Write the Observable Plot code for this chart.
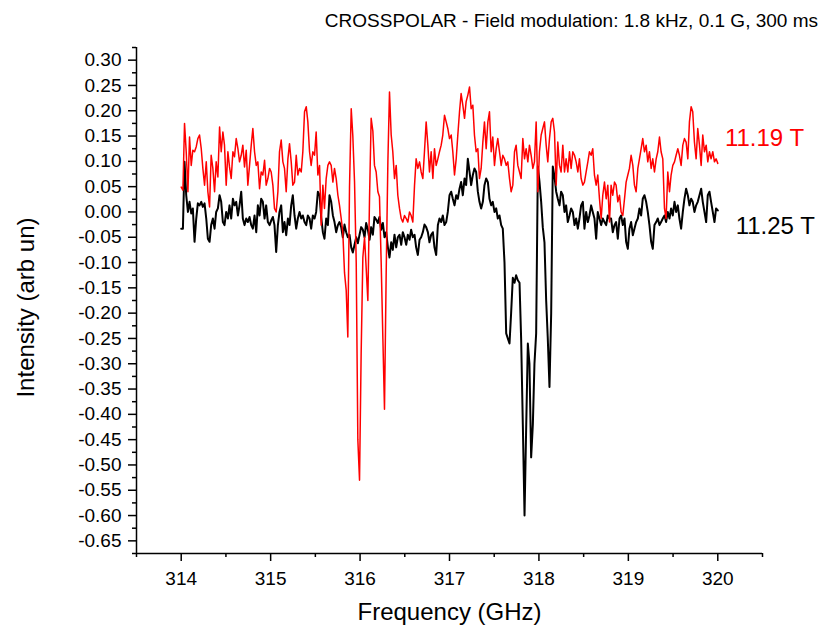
<!DOCTYPE html>
<html>
<head>
<meta charset="utf-8">
<script src="https://cdn.jsdelivr.net/npm/d3@7"></script>
<script src="https://cdn.jsdelivr.net/npm/@observablehq/plot@0.6"></script>
<style>
  html, body { margin: 0; padding: 0; background: #fff; overflow: hidden; font-family: "Liberation Sans", Arial, sans-serif; }
  #wrap { position: relative; width: 822px; height: 633px; }
  #title { position: absolute; right: 4px; top: 9px; font-size: 19px; line-height: 24px; white-space: nowrap; color: #000; text-align: right; }
  #chart { position: absolute; left: 0; top: 40px; }
  #chart svg { display: block; }
</style>
</head>
<body>
<div id="wrap">
<div id="title">CROSSPOLAR - Field modulation: 1.8 kHz, 0.1 G, 300 ms</div>
<div id="chart"></div>
</div>
<script>
const freq = [
314.000,314.019,314.037,314.056,314.075,314.093,314.112,314.130,314.149,314.168,
314.186,314.205,314.224,314.242,314.261,314.280,314.298,314.317,314.335,314.354,
314.373,314.391,314.410,314.429,314.447,314.466,314.484,314.503,314.522,314.540,
314.559,314.578,314.596,314.615,314.634,314.652,314.671,314.689,314.708,314.727,
314.745,314.764,314.783,314.801,314.820,314.839,314.857,314.876,314.894,314.913,
314.932,314.950,314.969,314.988,315.006,315.025,315.043,315.062,315.081,315.099,
315.118,315.137,315.155,315.174,315.193,315.211,315.230,315.248,315.267,315.286,
315.304,315.323,315.342,315.360,315.379,315.398,315.416,315.435,315.453,315.472,
315.491,315.509,315.528,315.547,315.565,315.584,315.602,315.621,315.640,315.658,
315.677,315.696,315.714,315.733,315.752,315.770,315.789,315.807,315.826,315.845,
315.863,315.882,315.901,315.919,315.938,315.957,315.975,315.994,316.012,316.031,
316.050,316.068,316.087,316.106,316.124,316.143,316.161,316.180,316.199,316.217,
316.236,316.255,316.273,316.292,316.311,316.329,316.348,316.366,316.385,316.404,
316.422,316.441,316.460,316.478,316.497,316.516,316.534,316.553,316.571,316.590,
316.609,316.627,316.646,316.665,316.683,316.702,316.720,316.739,316.758,316.776,
316.795,316.814,316.832,316.851,316.870,316.888,316.907,316.925,316.944,316.963,
316.981,317.000,317.019,317.037,317.056,317.075,317.093,317.112,317.130,317.149,
317.168,317.186,317.205,317.224,317.242,317.261,317.279,317.298,317.317,317.335,
317.354,317.373,317.391,317.410,317.429,317.447,317.466,317.484,317.503,317.522,
317.540,317.559,317.578,317.596,317.615,317.634,317.652,317.671,317.689,317.708,
317.727,317.745,317.764,317.783,317.801,317.820,317.839,317.857,317.876,317.894,
317.913,317.932,317.950,317.969,317.988,318.006,318.025,318.043,318.062,318.081,
318.099,318.118,318.137,318.155,318.174,318.193,318.211,318.230,318.248,318.267,
318.286,318.304,318.323,318.342,318.360,318.379,318.398,318.416,318.435,318.453,
318.472,318.491,318.509,318.528,318.547,318.565,318.584,318.602,318.621,318.640,
318.658,318.677,318.696,318.714,318.733,318.752,318.770,318.789,318.807,318.826,
318.845,318.863,318.882,318.901,318.919,318.938,318.957,318.975,318.994,319.012,
319.031,319.050,319.068,319.087,319.106,319.124,319.143,319.161,319.180,319.199,
319.217,319.236,319.255,319.273,319.292,319.311,319.329,319.348,319.366,319.385,
319.404,319.422,319.441,319.460,319.478,319.497,319.516,319.534,319.553,319.571,
319.590,319.609,319.627,319.646,319.665,319.683,319.702,319.720,319.739,319.758,
319.776,319.795,319.814,319.832,319.851,319.870,319.888,319.907,319.925,319.944,
319.963,319.981,320.000
];

// 11.19 T trace (red)
const red1119 = [
0.049,0.043,0.175,0.119,0.040,0.148,0.092,0.122,0.119,0.129,
0.145,0.152,0.125,0.086,0.053,0.099,0.040,0.010,0.112,0.086,
0.040,0.099,0.069,0.168,0.119,0.158,0.132,0.053,0.119,0.089,
0.066,0.119,0.109,0.145,0.125,0.099,0.112,0.132,0.089,0.122,
0.053,0.092,0.132,0.165,0.119,0.092,0.099,0.046,0.079,0.073,
0.102,0.053,0.066,0.086,0.079,0.053,0.007,0.000,0.040,0.119,
0.142,0.099,0.086,0.040,0.105,0.135,0.099,0.053,0.059,0.112,
0.073,0.086,0.079,0.119,0.198,0.208,0.178,0.119,0.092,0.119,
0.112,0.158,0.073,0.092,-0.026,0.053,0.007,0.066,0.092,0.099,
0.092,0.059,0.086,0.066,0.033,0.013,-0.013,-0.040,-0.120,-0.155,
-0.247,0.050,0.204,0.150,0.060,-0.100,-0.450,-0.530,-0.280,-0.090,
-0.050,-0.110,-0.175,0.030,0.185,0.160,0.092,0.079,0.040,0.030,
-0.100,-0.250,-0.390,-0.120,0.100,0.237,0.152,0.119,0.066,0.092,
0.033,0.007,-0.013,-0.020,-0.007,-0.013,-0.020,0.000,-0.007,-0.020,
0.053,0.105,0.086,0.099,0.079,0.066,0.119,0.178,0.132,0.079,
0.119,0.066,0.125,0.092,0.105,0.119,0.132,0.152,0.191,0.178,
0.165,0.145,0.152,0.119,0.073,0.105,0.152,0.198,0.234,0.211,
0.185,0.218,0.231,0.247,0.204,0.211,0.152,0.119,0.125,0.066,
0.086,0.138,0.178,0.125,0.178,0.198,0.119,0.148,0.092,0.125,
0.145,0.119,0.092,0.112,0.105,0.092,0.099,0.066,0.040,0.053,
0.119,0.132,0.092,0.079,0.066,0.145,0.105,0.125,0.099,0.132,
0.112,0.086,0.099,0.178,0.040,0.119,0.152,0.165,0.178,0.132,
0.099,0.145,0.178,0.185,0.158,0.053,0.138,0.092,0.079,0.132,
0.079,0.105,0.079,0.119,0.086,0.119,0.112,0.099,0.079,0.105,
0.066,0.053,0.059,0.079,0.099,0.119,0.112,0.125,0.073,0.053,
0.073,0.026,-0.013,0.033,0.059,0.026,0.053,-0.020,
0.053,0.033,0.059,0.053,0.020,0.033,0.000,-0.007,0.026,0.059,
0.073,0.086,0.112,0.092,0.053,0.040,0.086,0.105,0.125,0.145,
0.119,0.132,0.099,0.119,0.086,0.105,0.079,0.105,0.119,0.148,
0.119,0.105,0.007,-0.013,0.079,0.040,0.073,0.092,0.099,0.112,
0.125,0.112,0.092,0.132,0.145,0.138,0.105,0.178,0.208,0.198,
0.138,0.105,0.165,0.132,0.092,0.152,0.119,0.132,0.099,0.119,
0.105,0.119,0.099,0.105,0.096
];

// 11.25 T trace (black)
const black1125 = [
-0.033,-0.033,0.099,0.033,0.000,0.020,-0.003,0.007,-0.059,-0.013,
0.017,0.013,0.020,0.010,0.017,-0.013,-0.053,-0.059,-0.026,-0.013,
-0.033,0.000,0.007,0.033,0.020,-0.020,-0.026,0.000,-0.013,0.013,
-0.013,0.026,0.013,0.020,-0.007,0.013,0.040,-0.013,-0.026,-0.013,
-0.020,-0.010,-0.026,-0.033,-0.007,-0.040,0.013,-0.007,0.026,0.020,
-0.013,0.013,-0.020,-0.026,-0.017,-0.010,-0.026,-0.079,-0.026,0.000,
0.013,-0.040,-0.020,-0.046,-0.013,-0.026,0.013,0.033,-0.007,-0.033,
-0.013,0.000,-0.013,-0.007,-0.020,-0.026,-0.007,-0.013,-0.033,-0.007,
-0.013,0.000,0.040,0.033,-0.010,-0.040,-0.053,-0.013,-0.026,0.033,
0.020,-0.007,-0.020,-0.040,-0.026,-0.020,-0.030,-0.050,-0.025,-0.040,
-0.050,-0.045,-0.070,-0.080,-0.065,-0.050,-0.062,-0.045,-0.030,-0.035,
-0.050,-0.022,-0.035,-0.055,-0.030,-0.045,-0.010,-0.015,-0.022,-0.010,
-0.035,-0.022,-0.050,-0.040,-0.070,-0.090,-0.060,-0.075,-0.045,-0.070,
-0.050,-0.045,-0.065,-0.040,-0.050,-0.065,-0.045,-0.055,-0.035,-0.050,
-0.045,-0.070,-0.085,-0.055,-0.050,-0.040,-0.025,-0.030,-0.040,-0.060,
-0.045,-0.040,-0.070,-0.085,-0.026,-0.013,-0.020,-0.007,-0.026,-0.020,
0.000,0.033,0.040,0.026,0.013,0.033,0.026,0.046,0.059,0.033,
0.066,0.053,0.105,0.079,0.053,0.073,0.086,0.079,0.040,0.020,
0.007,0.020,0.053,0.066,0.059,0.026,0.013,0.020,0.000,0.007,
-0.013,-0.007,-0.026,-0.033,-0.100,-0.240,-0.250,-0.260,-0.200,-0.130,
-0.140,-0.125,-0.135,-0.140,-0.250,-0.420,-0.600,-0.430,-0.260,-0.300,
-0.485,-0.420,-0.300,-0.240,0.090,0.060,0.020,-0.030,-0.060,-0.175,
-0.250,-0.346,-0.200,0.090,0.070,0.040,0.026,0.013,0.040,0.033,
0.000,0.013,-0.020,-0.007,0.007,0.000,-0.026,-0.013,-0.033,-0.013,
0.013,0.020,-0.033,0.000,-0.020,-0.007,0.013,0.000,-0.013,-0.053,
0.000,-0.013,-0.026,-0.013,-0.020,-0.026,-0.007,-0.013,
-0.013,-0.040,-0.026,-0.020,-0.053,-0.013,-0.007,-0.026,-0.013,-0.059,
-0.073,-0.033,-0.020,-0.046,-0.033,-0.020,-0.013,0.007,-0.007,0.026,
0.033,0.020,0.000,-0.026,-0.059,-0.073,-0.026,-0.020,-0.013,-0.026,
-0.020,-0.013,-0.007,-0.020,0.000,-0.013,0.007,-0.007,0.020,0.000,
0.013,-0.013,-0.033,0.000,0.026,0.046,0.033,0.013,0.026,0.020,
0.000,0.013,0.020,0.033,0.046,0.020,0.000,-0.020,0.033,0.040,
0.020,0.000,-0.020,0.007,0.003
];

const xTicks = [314, 315, 316, 317, 318, 319, 320];
const xMinor = [313.5, 314.5, 315.5, 316.5, 317.5, 318.5, 319.5, 320.5];
const yTicks = [0.30, 0.25, 0.20, 0.15, 0.10, 0.05, 0.00, -0.05, -0.10, -0.15, -0.20, -0.25, -0.30,
                -0.35, -0.40, -0.45, -0.50, -0.55, -0.60, -0.65];
const yMinor = [0.325, 0.275, 0.225, 0.175, 0.125, 0.075, 0.025, -0.025, -0.075, -0.125, -0.175, -0.225,
                -0.275, -0.325, -0.375, -0.425, -0.475, -0.525, -0.575, -0.625, -0.675];
const seriesLabels = ["11.19 T", "11.25 T"];
const xTitle = "Frequency (GHz)";
const yTitle = "Intensity (arb un)";

const n = Math.min(freq.length, red1119.length, black1125.length);
const rows = [];
for (let i = 0; i < n; i++) rows.push({f: freq[i], red: red1119[i], black: black1125[i]});

const font = '"Liberation Sans", Arial, sans-serif';
const chart = Plot.plot({
  width: 822,
  height: 593,
  marginTop: 7,
  marginBottom: 80,
  marginLeft: 136,
  marginRight: 60,
  style: {fontFamily: font, fontSize: "19px", color: "#000", background: "#fff", overflow: "visible"},
  x: {domain: [313.5, 320.5], label: null},
  y: {domain: [-0.675, 0.325], label: null},
  marks: [
    Plot.axisX(xTicks, {tickSize: 8, tickPadding: 10, tickFormat: d => String(d), strokeWidth: 1.5, label: null}),
    Plot.axisX(xMinor, {tickSize: 4, tickFormat: () => "", strokeWidth: 1.5, label: null}),
    Plot.axisY(yTicks, {tickSize: 8, tickPadding: 7, tickFormat: d => d.toFixed(2), strokeWidth: 1.5, label: null}),
    Plot.axisY(yMinor, {tickSize: 4, tickFormat: () => "", strokeWidth: 1.5, label: null}),
    Plot.ruleX([313.5], {strokeWidth: 1.5}),
    Plot.ruleY([-0.675], {strokeWidth: 1.5}),
    Plot.line(rows, {x: "f", y: "black", stroke: "#000", strokeWidth: 2}),
    Plot.line(rows, {x: "f", y: "red", stroke: "#ff0000", strokeWidth: 1.5}),
    Plot.text([seriesLabels[0]], {x: 320.08, y: 0.146, text: d => d, fill: "#ff0000", textAnchor: "start", lineAnchor: "middle", fontSize: 24}),
    Plot.text([seriesLabels[1]], {x: 320.2, y: -0.028, text: d => d, fill: "#000", textAnchor: "start", lineAnchor: "middle", fontSize: 24}),
    Plot.text([xTitle], {frameAnchor: "bottom", dy: 59, textAnchor: "middle", lineAnchor: "middle", text: d => d, fontSize: 24}),
    Plot.text([yTitle], {frameAnchor: "left", dx: -110, dy: 7, rotate: -90, textAnchor: "middle", lineAnchor: "middle", text: d => d, fontSize: 24})
  ]
});
document.getElementById("chart").appendChild(chart);
if (freq.length !== red1119.length || freq.length !== black1125.length) {
  const w = document.createElement("div");
  w.textContent = "LEN " + freq.length + " " + red1119.length + " " + black1125.length;
  document.body.appendChild(w);
}
</script>
</body>
</html>
